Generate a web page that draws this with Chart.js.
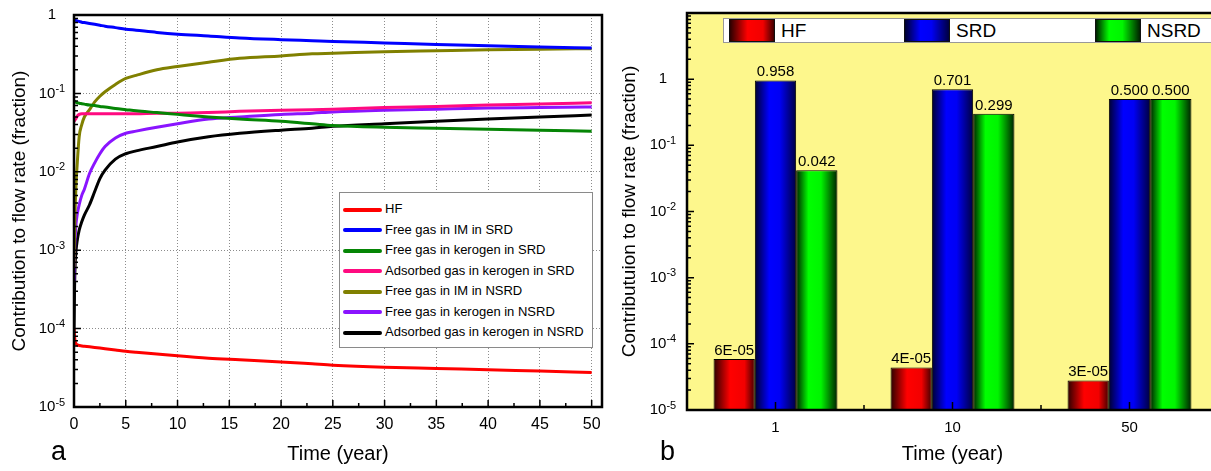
<!DOCTYPE html>
<html>
<head>
<meta charset="utf-8">
<title>Contribution to flow rate</title>
<script src="https://cdn.jsdelivr.net/npm/chart.js@4.4.1/dist/chart.umd.min.js"></script>
<style>
  html, body { margin: 0; padding: 0; background: #fff; }
  body { width: 1211px; height: 471px; overflow: hidden; position: relative; font-family: "Liberation Sans", Arial, sans-serif; }
  #boxA { position: absolute; left: 0; top: 0; width: 610px; height: 471px; }
  #boxB { position: absolute; left: 610px; top: 0; width: 640px; height: 471px; }
  #legendA { position: absolute; left: 339px; top: 192px; width: 252px; height: 154px; background: #fff; border: 1px solid #8a8a8a; font-size: 13px; }
  #legendA .row { position: absolute; left: 3px; height: 20px; line-height: 20px; white-space: nowrap; }
  #legendA .swatch { display: inline-block; width: 39px; height: 4px; border-radius: 2px; vertical-align: middle; margin-right: 3px; }
  #legendB { position: absolute; left: 723px; top: 18px; width: 560px; height: 23px; background: #fff; border: 1px solid #999; font-size: 19px; }
  #legendB .item { position: absolute; top: 0; height: 23px; line-height: 23px; white-space: nowrap; }
  #legendB .swatch { display: inline-block; width: 44px; height: 21px; border: 1px solid #111; vertical-align: top; margin-right: 6px; }
</style>
</head>
<body>
<div id="boxA"><canvas id="chartA"></canvas></div>
<div id="boxB"><canvas id="chartB"></canvas></div>
<div id="legendA"></div>
<div id="legendB"></div>
<script>
// ---- panel a : contribution of each gas source over time ----
const years = [0, 0.05, 0.1, 0.2, 0.3, 0.5, 0.75, 1, 1.5, 2, 2.5, 3, 4, 5, 6, 8, 10, 13, 16, 20, 23, 25, 30, 35, 40, 45, 50];
const hf = [1e-4, 8e-5, 7e-5, 6.4e-5, 6.2e-5, 6.1e-5, 6.0e-5, 5.95e-5, 5.85e-5, 5.75e-5, 5.65e-5, 5.55e-5, 5.35e-5, 5.15e-5, 5.0e-5, 4.75e-5, 4.5e-5, 4.2e-5, 4.0e-5, 3.75e-5, 3.55e-5, 3.42e-5, 3.22e-5, 3.1e-5, 2.98e-5, 2.87e-5, 2.76e-5];
const freeImSrd = [0.87, 0.87, 0.86, 0.85, 0.84, 0.83, 0.81, 0.80, 0.78, 0.76, 0.74, 0.72, 0.69, 0.66, 0.64, 0.60, 0.57, 0.54, 0.51, 0.485, 0.47, 0.46, 0.44, 0.42, 0.405, 0.39, 0.378];
const freeKerSrd = [0.080, 0.079, 0.078, 0.077, 0.076, 0.075, 0.074, 0.073, 0.071, 0.070, 0.068, 0.067, 0.064, 0.062, 0.060, 0.057, 0.054, 0.050, 0.047, 0.044, 0.041, 0.039, 0.037, 0.036, 0.035, 0.034, 0.033];
const adsKerSrd = [0.044, 0.045, 0.046, 0.048, 0.051, 0.054, 0.055, 0.055, 0.055, 0.055, 0.055, 0.055, 0.055, 0.055, 0.055, 0.056, 0.056, 0.057, 0.059, 0.061, 0.062, 0.063, 0.066, 0.068, 0.071, 0.073, 0.076];
const freeImNsrd = [0.0006, 0.0015, 0.003, 0.007, 0.012, 0.028, 0.040, 0.050, 0.062, 0.078, 0.092, 0.105, 0.13, 0.155, 0.17, 0.20, 0.22, 0.25, 0.28, 0.30, 0.32, 0.325, 0.34, 0.35, 0.36, 0.367, 0.372];
const freeKerNsrd = [0.0004, 0.0009, 0.0014, 0.0022, 0.0028, 0.0038, 0.005, 0.006, 0.0095, 0.013, 0.017, 0.021, 0.027, 0.031, 0.033, 0.037, 0.041, 0.047, 0.050, 0.054, 0.056, 0.058, 0.061, 0.063, 0.065, 0.066, 0.067];
const adsKerNsrd = [0.00008, 0.0003, 0.0006, 0.001, 0.0013, 0.0018, 0.0023, 0.0028, 0.0038, 0.0056, 0.0082, 0.0105, 0.0145, 0.017, 0.0185, 0.021, 0.024, 0.028, 0.031, 0.034, 0.036, 0.038, 0.041, 0.044, 0.047, 0.050, 0.053];
const seriesNames = ['HF', 'Free gas in IM in SRD', 'Free gas in kerogen in SRD', 'Adsorbed gas in kerogen in SRD',
  'Free gas in IM in NSRD', 'Free gas in kerogen in NSRD', 'Adsorbed gas in kerogen in NSRD'];
const decadeTicks = [1e-5, 1e-4, 1e-3, 1e-2, 1e-1, 1];

// ---- panel b : contribution by region at 1, 10 and 50 years ----
const barYears = ['1', '10', '50'];
const barHF = [5.9e-5, 4.4e-5, 2.8e-5];
const barSRD = [0.958, 0.701, 0.500];
const barNSRD = [0.042, 0.299, 0.500];
const barNames = ['HF', 'SRD', 'NSRD'];

// styles
const FONT = '"Liberation Sans", Arial, sans-serif';
const seriesColors = ['#ff0000', '#0000ff', '#058505', '#ff0a80', '#808000', '#8a14ff', '#000000'];
const plotYellow = '#fdf78c';
const barShade = [
  [[0, '#2a0000'], [0.4, '#ff0000'], [0.75, '#f20000'], [1, '#400000']],
  [[0, '#000030'], [0.35, '#0000ff'], [0.6, '#0000f5'], [1, '#000040']],
  [[0, '#002000'], [0.3, '#00ff00'], [0.6, '#00f500'], [1, '#002000']]
];

Chart.defaults.font.family = FONT;
Chart.defaults.color = '#000';

function powLabel(ctx, v, cx, py, size) {
  const e = Math.round(Math.log10(v));
  ctx.textBaseline = 'middle';
  ctx.textAlign = 'left';
  ctx.fillStyle = '#000';
  ctx.font = size + 'px ' + FONT;
  if (e === 0) {
    ctx.fillText('1', cx - ctx.measureText('1').width / 2, py);
    return;
  }
  const wb = ctx.measureText('10').width;
  const sup = String(e);
  ctx.font = Math.round(size * 0.72) + 'px ' + FONT;
  const ws = ctx.measureText(sup).width;
  const x0 = cx - (wb + ws) / 2;
  ctx.fillText(sup, x0 + wb, py - size * 0.3);
  ctx.font = size + 'px ' + FONT;
  ctx.fillText('10', x0, py);
}

// log minor ticks on the left axis, pointing into the plot
function logTicks(ctx, a, y) {
  for (let e = -5; e <= 1; e++) {
    for (let k = 1; k < 10; k++) {
      const v = k * Math.pow(10, e);
      if (v > y.max * 1.0001) break;
      const py = y.getPixelForValue(v);
      const len = k === 1 ? 7 : 4;
      ctx.moveTo(a.left, py);
      ctx.lineTo(a.left + len, py);
    }
  }
}

const frameA = {
  id: 'frameA',
  afterDatasetsDraw(chart) {
    const { ctx, chartArea: a, scales: { x, y } } = chart;
    ctx.save();
    ctx.strokeStyle = '#000';
    ctx.lineWidth = 1.5;
    ctx.beginPath();
    logTicks(ctx, a, y);
    for (let t = 0; t <= 50; t += 2.5) {
      const px = x.getPixelForValue(t);
      ctx.moveTo(px, a.bottom);
      ctx.lineTo(px, a.bottom - (t % 5 === 0 ? 7 : 4));
    }
    ctx.stroke();
    ctx.lineWidth = 2.5;
    ctx.strokeRect(a.left, a.top, a.right - a.left, a.bottom - a.top);
    decadeTicks.forEach(v => powLabel(ctx, v, a.left - 22, y.getPixelForValue(v), 15));
    ctx.font = '27px ' + FONT;
    ctx.textAlign = 'left';
    ctx.textBaseline = 'alphabetic';
    ctx.fillText('a', 51, 460);
    ctx.restore();
  }
};

function fmtBar(v) {
  if (v >= 0.001) return v.toFixed(3);
  const [m, e] = v.toExponential(0).split('e');
  const n = Math.abs(parseInt(e, 10));
  return m + 'E' + (parseInt(e, 10) < 0 ? '-' : '+') + String(n).padStart(2, '0');
}

const frameB = {
  id: 'frameB',
  beforeDatasetsDraw(chart) {
    const { ctx, chartArea: a } = chart;
    ctx.save();
    ctx.fillStyle = plotYellow;
    ctx.fillRect(a.left, a.top, a.right - a.left, a.bottom - a.top);
    ctx.restore();
    chart.data.datasets.forEach((ds, i) => {
      chart.getDatasetMeta(i).data.forEach(bar => {
        const g = ctx.createLinearGradient(bar.x - bar.width / 2, 0, bar.x + bar.width / 2, 0);
        barShade[i].forEach(([p, c]) => g.addColorStop(p, c));
        bar.options = Object.assign({}, bar.options, { backgroundColor: g });
      });
    });
  },
  afterDatasetsDraw(chart) {
    const { ctx, chartArea: a, scales: { x, y } } = chart;
    ctx.save();
    ctx.fillStyle = '#000';
    ctx.font = '15px ' + FONT;
    ctx.textAlign = 'center';
    ctx.textBaseline = 'bottom';
    chart.data.datasets.forEach((ds, i) => {
      chart.getDatasetMeta(i).data.forEach((bar, j) => ctx.fillText(fmtBar(ds.data[j]), bar.x, bar.y - 1));
    });
    ctx.strokeStyle = '#000';
    ctx.lineWidth = 1.5;
    ctx.beginPath();
    logTicks(ctx, a, y);
    barYears.forEach((c, j) => {
      const px = x.getPixelForValue(j);
      ctx.moveTo(px, a.bottom);
      ctx.lineTo(px, a.bottom - 8);
      if (j < barYears.length - 1) {
        const mid = (px + x.getPixelForValue(j + 1)) / 2;
        ctx.moveTo(mid, a.bottom);
        ctx.lineTo(mid, a.bottom - 5);
      }
    });
    ctx.stroke();
    ctx.lineWidth = 2.5;
    ctx.strokeRect(a.left, a.top, a.right - a.left, a.bottom - a.top);
    decadeTicks.forEach(v => powLabel(ctx, v, a.left - 24, y.getPixelForValue(v), 15));
    ctx.font = '27px ' + FONT;
    ctx.textAlign = 'left';
    ctx.textBaseline = 'alphabetic';
    ctx.fillText('b', 50, 460);
    ctx.restore();
  }
};

const seriesValues = [hf, freeImSrd, freeKerSrd, adsKerSrd, freeImNsrd, freeKerNsrd, adsKerNsrd];

new Chart(document.getElementById('chartA'), {
  type: 'line',
  data: {
    datasets: seriesValues.map((vals, i) => ({
      label: seriesNames[i],
      data: years.map((t, j) => ({ x: t, y: vals[j] })),
      borderColor: seriesColors[i],
      borderWidth: 3,
      pointRadius: 0,
      cubicInterpolationMode: 'monotone',
      fill: false
    }))
  },
  options: {
    responsive: true,
    maintainAspectRatio: false,
    animation: false,
    events: [],
    layout: { padding: { left: 0, top: 15, right: 8, bottom: 0 } },
    plugins: { legend: { display: false }, tooltip: { enabled: false } },
    scales: {
      x: {
        type: 'linear', min: 0, max: 51,
        ticks: { stepSize: 5, includeBounds: false, font: { size: 16 }, padding: 8, color: '#000' },
        grid: { color: '#8c8c8c', lineWidth: 1, drawTicks: false },
        border: { display: false, dash: [1, 2] },
        title: { display: true, text: 'Time (year)', font: { size: 20 }, padding: { top: 0, bottom: 5 }, color: '#000' },
        afterFit: s => { s.height = 64; }
      },
      y: {
        type: 'logarithmic', min: 1e-5, max: 1,
        afterBuildTicks: s => { s.ticks = decadeTicks.map(v => ({ value: v })); },
        ticks: { display: false },
        grid: { color: '#8c8c8c', lineWidth: 1, drawTicks: false },
        border: { display: false, dash: [1, 2] },
        title: { display: true, text: 'Contribution to flow rate (fraction)', font: { size: 19 }, padding: { top: 8, bottom: 0 }, color: '#000' },
        afterFit: s => { s.width = 74; }
      }
    }
  },
  plugins: [frameA]
});

const barValues = [barHF, barSRD, barNSRD];

new Chart(document.getElementById('chartB'), {
  type: 'bar',
  data: {
    labels: barYears,
    datasets: barValues.map((vals, i) => ({
      label: barNames[i],
      data: vals,
      backgroundColor: barShade[i][1][1],
      borderColor: '#000',
      borderWidth: 1,
      barPercentage: 1,
      categoryPercentage: 0.7
    }))
  },
  options: {
    responsive: true,
    maintainAspectRatio: false,
    animation: false,
    events: [],
    layout: { padding: { left: 0, top: 13, right: 32, bottom: 0 } },
    plugins: { legend: { display: false }, tooltip: { enabled: false } },
    scales: {
      x: {
        ticks: { font: { size: 15 }, padding: 9, color: '#000' },
        grid: { display: false, drawTicks: false },
        border: { display: false },
        title: { display: true, text: 'Time (year)', font: { size: 20 }, padding: { top: 0, bottom: 5 }, color: '#000' },
        afterFit: s => { s.height = 61; }
      },
      y: {
        type: 'logarithmic', min: 1e-5, max: 10,
        ticks: { display: false },
        grid: { display: false, drawTicks: false },
        border: { display: false },
        title: { display: true, text: 'Contributuion to flow rate (fraction)', font: { size: 19 }, padding: { top: 8, bottom: 0 }, color: '#000' },
        afterFit: s => { s.width = 77; }
      }
    }
  },
  plugins: [frameB]
});

// legends, built from the same names and colours
const legA = document.getElementById('legendA');
seriesNames.forEach((name, i) => {
  const row = document.createElement('div');
  row.className = 'row';
  row.style.top = (6 + i * 20.5) + 'px';
  row.innerHTML = '<span class="swatch" style="background:' + seriesColors[i] + '"></span>' + name;
  legA.appendChild(row);
});

const legB = document.getElementById('legendB');
const legBLeft = [5, 180, 371];
barNames.forEach((name, i) => {
  const item = document.createElement('div');
  item.className = 'item';
  item.style.left = legBLeft[i] + 'px';
  const grad = 'linear-gradient(to right,' + barShade[i].map(([p, c]) => c + ' ' + (p * 100) + '%').join(',') + ')';
  item.innerHTML = '<span class="swatch" style="background:' + grad + '"></span>' + name;
  legB.appendChild(item);
});
</script>
</body>
</html>
